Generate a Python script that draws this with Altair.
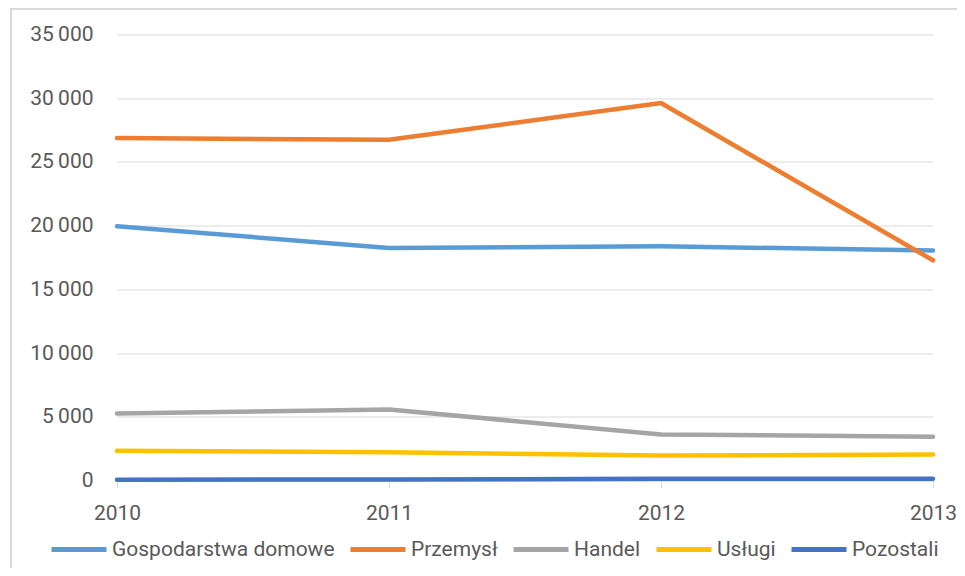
import altair as alt
import pandas as pd

years = [2010, 2011, 2012, 2013]
series = ["Gospodarstwa domowe", "Przemysł", "Handel", "Usługi", "Pozostali"]
gospodarstwa = [19950, 18250, 18380, 18050]
przemysl = [26870, 26740, 29620, 17280]
handel = [5260, 5570, 3610, 3430]
uslugi = [2330, 2220, 1960, 2040]
pozostali = [60, 80, 130, 140]
colors = ["#5B9BD5", "#ED7D31", "#A5A5A5", "#FFC000", "#4472C4"]
y_ticks = [0, 5000, 10000, 15000, 20000, 25000, 30000, 35000]

rows = []
for i, (name, vals) in enumerate(zip(series, [gospodarstwa, przemysl, handel, uslugi, pozostali])):
    for yr, v in zip(years, vals):
        rows.append({"Rok": yr, "Wartość": v, "Seria": name, "kolejnosc": i})
df = pd.DataFrame(rows)

W, H = 816, 446
FONT = "Roboto"
TXT = "#595959"
GRID = "#D9D9D9"

border = alt.Chart(pd.DataFrame({"a": [0]})).mark_rect(
    filled=False, stroke=GRID, strokeWidth=2, clip=False
).encode(
    x=alt.value(-106), x2=alt.value(W + 300),
    y=alt.value(-25.5), y2=alt.value(H + 300),
)

lines = alt.Chart(df).mark_line(
    strokeWidth=4.5, strokeCap="round", strokeJoin="round"
).encode(
    x=alt.X("Rok:Q",
            scale=alt.Scale(domain=[2010, 2013], nice=False, zero=False),
            axis=alt.Axis(values=years, format="d", title=None, grid=False,
                          domain=True, domainColor=GRID, domainWidth=1,
                          ticks=True, tickColor=GRID, tickSize=7, tickWidth=1,
                          labelColor=TXT, labelFont=FONT, labelFontSize=21,
                          labelPadding=15, labelFlush=False)),
    y=alt.Y("Wartość:Q",
            scale=alt.Scale(domain=[0, 35000], nice=False),
            axis=alt.Axis(values=y_ticks, title=None, domain=False, ticks=False,
                          grid=True, gridColor=GRID, gridWidth=1,
                          labelColor=TXT, labelFont=FONT, labelFontSize=21,
                          labelPadding=24,
                          labelExpr="replace(format(datum.value, ','), ',', '\u2009')")),
    color=alt.Color("Seria:N",
                    scale=alt.Scale(domain=series, range=colors),
                    legend=alt.Legend(title=None, orient="none", direction="horizontal",
                                      legendX=-68, legendY=485,
                                      symbolType="stroke", symbolSize=3025,
                                      symbolStrokeWidth=5, labelLimit=400,
                                      labelColor=TXT, labelFont=FONT, labelFontSize=21,
                                      labelOffset=3, columnPadding=5)),
    order=alt.Order("kolejnosc:Q"),
)

chart = alt.layer(border, lines).properties(
    width=W, height=H,
    autosize=alt.AutoSizeParams(type="none"),
    padding={"left": 109, "top": 26.5, "right": 24, "bottom": 87},
).configure_view(stroke=None)

chart.save("out.html", embed_options={"renderer": "svg", "actions": False})
